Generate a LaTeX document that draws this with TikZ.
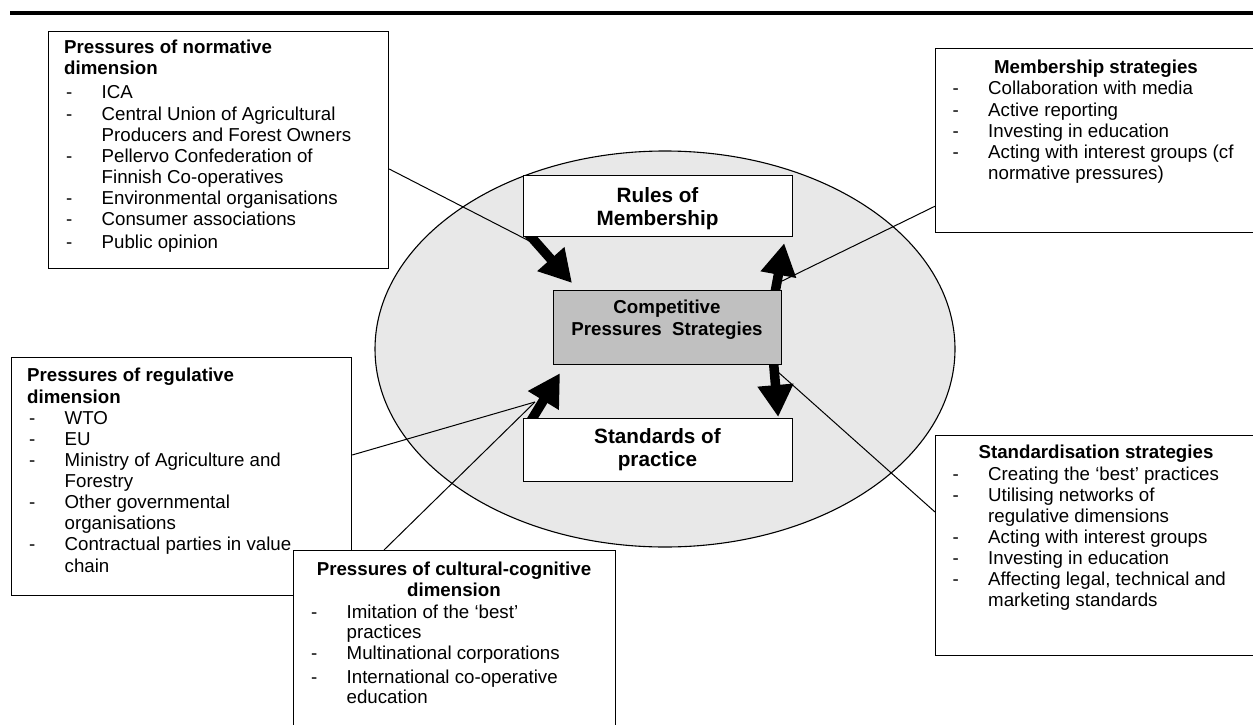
\documentclass[tikz,border=0pt]{standalone}
\usepackage{fontspec}
\setmainfont{Liberation Sans}
\usetikzlibrary{arrows.meta,calc,shapes.geometric}
\definecolor{ellgray}{RGB}{232,232,232}
\definecolor{boxgray}{RGB}{192,192,192}
\pgfdeclarelayer{bg}
\pgfdeclarelayer{mid}
\pgfsetlayers{bg,mid,main}
\newcommand{\dashlist}[1]{\begin{tabular}[t]{@{}p{35.5pt}@{}l@{}}#1\end{tabular}}
\newcommand{\ttab}[2]{\begin{tabular}[t]{@{}#1@{}}#2\end{tabular}}
\begin{document}
\begin{tikzpicture}[x=1pt,y=-1pt,
  box/.style={draw=black, line width=1.2pt, fill=white, inner sep=0pt, anchor=north west},
  bigarrow/.style={line width=9.5pt, -{Triangle[length=32pt,width=34pt]}},
  thinline/.style={draw=black, line width=1pt},
  lst/.style={anchor=base west, inner sep=0pt, font=\fontsize{18.7}{21.1}\selectfont},
  ttl/.style={inner sep=0pt, font=\fontsize{18.7}{21.3}\selectfont\bfseries},
  big/.style={anchor=base, inner sep=0pt, font=\fontsize{20.7}{23.3}\selectfont\bfseries}
]
\useasboundingbox (0,0) rectangle (1253,725);

% top rule
\draw[line width=3.5pt] (10,13) -- (1253,13);

% ellipse
\begin{pgfonlayer}{bg}
\node[draw=black, line width=1.1pt, fill=ellgray, ellipse, minimum width=580pt, minimum height=396pt, inner sep=0pt] (ell) at (665,349) {};
\end{pgfonlayer}

% central boxes
\node[box, minimum width=269pt, minimum height=61pt] (rules) at (523,175) {};
\node[big] (rulestxt) at (657.5,202) {\ttab{c}{Rules of\\Membership}};
\node[box, fill=boxgray, minimum width=228pt, minimum height=74pt] (comp) at (553,290) {};
\node[anchor=base, inner sep=0pt, font=\fontsize{18.7}{21.7}\selectfont\bfseries] (comptxt) at (667,313.3) {\ttab{c}{Competitive\\Pressures\ \ Strategies}};
\node[box, minimum width=269pt, minimum height=63pt] (std) at (523,418) {};
\node[big] (stdtxt) at (657.5,443) {\ttab{c}{Standards of\\practice}};

% normative box
\node[box, minimum width=340pt, minimum height=237pt] (nbox) at (48,31) {};
\node[ttl, anchor=base west] (ntitle) at (64,53.5) {\ttab{l}{Pressures of normative\\dimension}};
\node[lst] (nlist) at (66,99) {\dashlist{-&ICA\\
-&Central Union of Agricultural\\
&Producers and Forest Owners\\
-&Pellervo Confederation of\\
&Finnish Co-operatives\\
-&Environmental organisations\\
-&Consumer associations\\[2pt]
-&Public opinion}};

% regulative box
\node[box, minimum width=340pt, minimum height=238pt] (rbox) at (11,357) {};
\node[ttl, anchor=base west] (rtitle) at (27,381.7) {\ttab{l}{Pressures of regulative\\dimension}};
\node[lst] (rlist) at (29,424.3) {\dashlist{-&WTO\\
-&EU\\
-&Ministry of Agriculture and\\
&Forestry\\
-&Other governmental\\
&organisations\\
-&Contractual parties in value\\
&chain}};

% cultural-cognitive box
\node[box, minimum width=322pt, minimum height=195pt] (cbox) at (293,550) {};
\node[ttl, anchor=base] (ctitle) at (454,575) {\ttab{c}{Pressures of cultural-cognitive\\dimension}};
\node[lst, font=\fontsize{18.7}{20.5}\selectfont] (clist) at (311,618.3) {\dashlist{-&Imitation of the ‘best’\\
&practices\\
-&Multinational corporations\\[3.5pt]
-&International co-operative\\
&education}};

% membership strategies box
\node[box, minimum width=322pt, minimum height=184pt] (mbox) at (935,48) {};
\node[ttl, anchor=base] (mtitle) at (1096,73.3) {Membership strategies};
\node[lst] (mlist) at (952.5,95) {\dashlist{-&Collaboration with media\\
-&Active reporting\\
-&Investing in education\\
-&Acting with interest groups (cf\\
&normative pressures)}};

% standardisation strategies box
\node[box, minimum width=322pt, minimum height=220pt] (sbox) at (935,435) {};
\node[ttl, anchor=base] (stitle) at (1096,458.3) {Standardisation strategies};
\node[lst] (slist) at (952.5,480) {\dashlist{-&Creating the ‘best’ practices\\
-&Utilising networks of\\
&regulative dimensions\\
-&Acting with interest groups\\
-&Investing in education\\
-&Affecting legal, technical and\\
&marketing standards}};

% junction points on the thick arrows
\coordinate (j1) at (541,247);
\coordinate (j2) at (778,283);
\coordinate (j3) at (778,372);
\coordinate (j4) at (535,402);

\begin{pgfonlayer}{mid}
% thick arrows
\draw[bigarrow] ($(rules.south west)+(4,-5)$) -- ($(comp.north west)+(19,-7)$);
\draw[bigarrow] ($(comp.north east)+(-8,7)$) -- ($(rules.south east)+(-9,6)$);
\draw[bigarrow] ($(comp.south east)+(-9,-7)$) -- ($(std.north east)+(-15,-1)$);
\draw[bigarrow] ($(std.north west)+(6,6)$) -- ($(comp.south west)+(7,8)$);
% thin connectors
\draw[thinline] ($(nbox.north east)+(0,138)$) -- (j1);
\draw[thinline] ($(mbox.south west)+(0,-27)$) -- (j2);
\draw[thinline] ($(sbox.north west)+(0,77)$) -- (j3);
\draw[thinline] ($(rbox.north east)+(0,98)$) -- (j4);
\draw[thinline] ($(cbox.north west)+(91,0)$) -- (j4);
\end{pgfonlayer}
\end{tikzpicture}
\end{document}
